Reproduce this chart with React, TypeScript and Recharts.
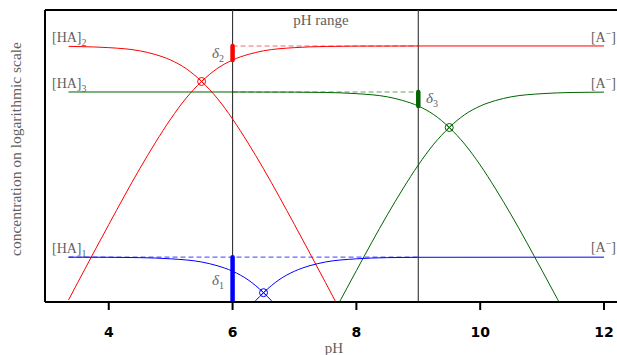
import React from "react";
import {
  ComposedChart,
  Line,
  Scatter,
  XAxis,
  YAxis,
  ReferenceLine,
  ReferenceDot,
} from "recharts";

type Pt = [number, number];

// x: pH, y: log10 concentration
const PH_DOMAIN: Pt = [2.97, 12.21];
const LOG_DOMAIN: Pt = [-2.17, 0.305];
const PH_TICKS = [4, 6, 8, 10, 12];
const PH_RANGE = [6, 9];

const RED_HA: Pt[] = [
  [3.35, -0.003], [3.75, -0.008], [4.0, -0.014], [4.5, -0.041], [4.75, -0.072],
  [5.0, -0.119], [5.25, -0.192], [5.5, -0.301], [5.75, -0.442], [6.0, -0.619],
  [6.25, -0.822], [6.5, -1.041], [7.0, -1.514], [7.5, -2.004], [8.0, -2.501],
];
const RED_A: Pt[] = [
  [3.35, -2.153], [3.5, -2.004], [4.0, -1.514], [4.5, -1.041], [4.75, -0.822],
  [5.0, -0.619], [5.25, -0.442], [5.5, -0.301], [5.75, -0.192], [6.0, -0.119],
  [6.25, -0.072], [6.5, -0.041], [7.0, -0.014], [7.5, -0.004], [8.0, -0.001],
  [9.0, 0], [12.0, 0],
];
const GREEN_HA: Pt[] = [
  [3.35, -0.39], [6.0, -0.39], [7.0, -0.391], [7.5, -0.394], [8.0, -0.404],
  [8.5, -0.431], [8.75, -0.462], [9.0, -0.509], [9.25, -0.582], [9.5, -0.691],
  [9.75, -0.832], [10.0, -1.009], [10.25, -1.212], [10.5, -1.431], [11.0, -1.904],
  [11.5, -2.394],
];
const GREEN_A: Pt[] = [
  [7.5, -2.394], [8.0, -1.904], [8.5, -1.431], [8.75, -1.212], [9.0, -1.009],
  [9.25, -0.832], [9.5, -0.691], [9.75, -0.582], [10.0, -0.509], [10.25, -0.462],
  [10.5, -0.431], [11.0, -0.404], [11.5, -0.394], [12.0, -0.391],
];
const BLUE_HA: Pt[] = [
  [3.35, -1.79], [4.0, -1.791], [4.5, -1.794], [5.0, -1.804], [5.5, -1.831],
  [5.75, -1.862], [6.0, -1.909], [6.25, -1.982], [6.5, -2.091], [6.75, -2.232],
  [7.0, -2.409],
];
const BLUE_A: Pt[] = [
  [6.0, -2.409], [6.25, -2.232], [6.5, -2.091], [6.75, -1.982], [7.0, -1.909],
  [7.25, -1.862], [7.5, -1.831], [8.0, -1.804], [8.5, -1.794], [9.0, -1.791],
  [12.0, -1.79],
];

// total concentration levels (dashed)
const RED_LEVEL: Pt[] = [[6, 0], [9, 0]];
const GREEN_LEVEL: Pt[] = [[6, -0.39], [9, -0.39]];
const BLUE_LEVEL: Pt[] = [[3.35, -1.79], [9, -1.79]];

// delta bars at the pH range edges
const DELTA_2: Pt[] = [[6, 0], [6, -0.119]];
const DELTA_3: Pt[] = [[9, -0.39], [9, -0.509]];
const DELTA_1: Pt[] = [[6, -1.79], [6, -2.409]];

// pKa crossings
const CROSS_RED: Pt[] = [[5.5, -0.301]];
const CROSS_GREEN: Pt[] = [[9.5, -0.691]];
const CROSS_BLUE: Pt[] = [[6.5, -2.091]];

const RED = "#ff0000";
const GREEN = "#006400";
const BLUE = "#0000ff";
const GREY = "#5f5f5f";
const SERIF = "'Liberation Serif', 'DejaVu Serif', serif";

const rows = (pts: Pt[]) => pts.map(([ph, c]) => ({ ph, c }));

const crossShape = (color: string) => (p: any) => {
  const r = 4;
  const d = r * 0.72;
  return (
    <g stroke={color} fill="none" strokeWidth={1}>
      <circle cx={p.cx} cy={p.cy} r={r} />
      <line x1={p.cx - d} y1={p.cy - d} x2={p.cx + d} y2={p.cy + d} />
      <line x1={p.cx - d} y1={p.cy + d} x2={p.cx + d} y2={p.cy - d} />
    </g>
  );
};

const sub = (s: string) => (
  <tspan dy={4} fontSize={10} fontStyle="normal">
    {s}
  </tspan>
);

function label(
  key: string,
  ph: number,
  c: number,
  content: React.ReactNode,
  opts: { anchor?: string; size?: number; italic?: boolean; rotate?: boolean } = {}
) {
  const { anchor = "start", size = 14, italic = false, rotate = false } = opts;
  return (
    <ReferenceDot
      key={key}
      x={ph}
      y={c}
      ifOverflow="visible"
      shape={(p: any) => (
        <text
          x={p.cx}
          y={p.cy}
          fill={GREY}
          fontFamily={SERIF}
          fontSize={size}
          fontStyle={italic ? "italic" : "normal"}
          textAnchor={anchor}
          transform={rotate ? `rotate(-90 ${p.cx} ${p.cy})` : undefined}
        >
          {content}
        </text>
      )}
    />
  );
}

const aMinus = (
  <>
    [A<tspan dy={-5} fontSize={10}>−</tspan>
    <tspan dy={5}>]</tspan>
  </>
);

export default function App() {
  const curve = (key: string, pts: Pt[], color: string) => (
    <Line
      key={key}
      data={rows(pts)}
      dataKey="c"
      type="monotone"
      stroke={color}
      strokeWidth={1}
      dot={false}
      activeDot={false}
      isAnimationActive={false}
    />
  );
  const dashed = (key: string, pts: Pt[], color: string) => (
    <Line
      key={key}
      data={rows(pts)}
      dataKey="c"
      type="linear"
      stroke={color}
      strokeOpacity={0.6}
      strokeWidth={1.2}
      strokeDasharray="5 3"
      dot={false}
      activeDot={false}
      isAnimationActive={false}
    />
  );
  const bar = (key: string, pts: Pt[], color: string) => (
    <Line
      key={key}
      data={rows(pts)}
      dataKey="c"
      type="linear"
      stroke={color}
      strokeWidth={4.5}
      strokeLinecap="round"
      dot={false}
      activeDot={false}
      isAnimationActive={false}
    />
  );
  const cross = (key: string, pts: Pt[], color: string) => (
    <Scatter
      key={key}
      data={rows(pts)}
      dataKey="c"
      shape={crossShape(color)}
      isAnimationActive={false}
    />
  );

  return (
    <div style={{ position: "absolute", left: 0, top: 0 }}>
      <ComposedChart
        width={617}
        height={355}
        margin={{ top: 10, right: 0, bottom: 0, left: 45 }}
      >
        <XAxis
          dataKey="ph"
          type="number"
          domain={PH_DOMAIN}
          ticks={PH_TICKS}
          allowDataOverflow
          height={53}
          tickSize={8}
          tickMargin={17}
          stroke="#000"
          axisLine={{ stroke: "#000", strokeWidth: 2 }}
          tickLine={{ stroke: "#000", strokeWidth: 2 }}
          tick={{
            fill: "#000",
            fontSize: 14,
            fontWeight: "bold",
            fontFamily: "'DejaVu Sans', sans-serif",
          }}
        />
        <YAxis
          dataKey="c"
          type="number"
          domain={LOG_DOMAIN}
          allowDataOverflow
          hide
        />
        <ReferenceLine y={LOG_DOMAIN[1]} stroke="#000" strokeWidth={2} />
        <ReferenceLine x={PH_DOMAIN[0]} stroke="#000" strokeWidth={2} />
        {PH_RANGE.map((v) => (
          <ReferenceLine key={v} x={v} stroke="#333" strokeWidth={1.1} />
        ))}

        {dashed("rl", RED_LEVEL, RED)}
        {dashed("gl", GREEN_LEVEL, GREEN)}
        {dashed("bl", BLUE_LEVEL, BLUE)}

        {curve("rha", RED_HA, RED)}
        {curve("ra", RED_A, RED)}
        {curve("gha", GREEN_HA, GREEN)}
        {curve("ga", GREEN_A, GREEN)}
        {curve("bha", BLUE_HA, BLUE)}
        {curve("ba", BLUE_A, BLUE)}

        {bar("d2", DELTA_2, RED)}
        {bar("d3", DELTA_3, GREEN)}
        {bar("d1", DELTA_1, BLUE)}

        {cross("cr", CROSS_RED, RED)}
        {cross("cg", CROSS_GREEN, GREEN)}
        {cross("cb", CROSS_BLUE, BLUE)}

        {label("ha2", 3.083, 0.034, <>[HA]{sub("2")}</>)}
        {label("ha3", 3.083, -0.356, <>[HA]{sub("3")}</>)}
        {label("ha1", 3.083, -1.755, <>[HA]{sub("1")}</>)}
        {label("a2", 12.194, 0.034, aMinus, { anchor: "end" })}
        {label("a3", 12.194, -0.356, aMinus, { anchor: "end" })}
        {label("a1", 12.194, -1.746, aMinus, { anchor: "end" })}
        {label("dl2", 5.668, -0.102, <>δ{sub("2")}</>, { italic: true, size: 15 })}
        {label("dl3", 9.125, -0.483, <>δ{sub("3")}</>, { italic: true, size: 15 })}
        {label("dl1", 5.668, -2.026, <>δ{sub("1")}</>, { italic: true, size: 15 })}
        {label("range", 7.428, 0.178, "pH range", { anchor: "middle", size: 15 })}
        {label("xl", 7.638, -2.602, "pH", { anchor: "middle", size: 15 })}
        {label("yl", 2.582, -0.873, "concentration on logarithmic scale", {
          anchor: "middle",
          size: 15.5,
          rotate: true,
        })}
      </ComposedChart>
    </div>
  );
}
